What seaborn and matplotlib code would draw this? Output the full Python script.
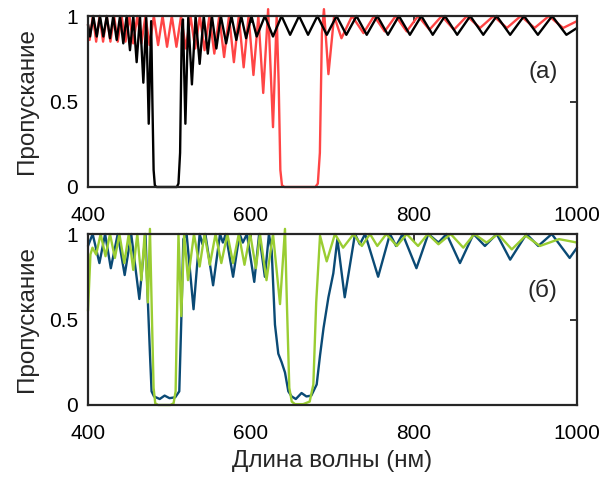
import matplotlib
matplotlib.use("Agg")
import matplotlib.pyplot as plt
import seaborn as sns

# ---------------- data ----------------
# panel (a): black curve
black_wl = [400, 402.5, 406.5, 410.7, 414.7, 418.8, 423, 427, 431, 435.2,
            439.3, 443.3, 447.4, 451.5, 455.6, 459.7, 463.8, 467.9, 471.5, 474.5,
            477.5, 479, 480.5, 482, 484, 509, 511, 513, 515, 516.5,
            519.5, 523, 527.5, 532, 537, 542, 547, 552, 557.5, 563,
            569.5, 576, 582, 588, 594, 600.5, 607, 617, 627, 637.5,
            648, 659, 670, 681.5, 693, 705, 717, 729.5, 742, 755,
            768, 781.5, 795, 809, 823, 838, 853, 869, 885, 901.5,
            918, 935, 952, 969.5, 987, 1000]
black_T = [0.95, 0.88, 1.0, 0.88, 1.0, 0.88, 1.0, 0.87, 1.0, 0.86,
           1.0, 0.84, 1.0, 0.80, 1.0, 0.73, 1.0, 0.61, 0.99, 0.37,
           0.97, 0.5, 0.1, 0.01, 0.0, 0.0, 0.02, 0.2, 0.9, 0.98,
           0.37, 0.99, 0.60, 1.0, 0.72, 1.0, 0.78, 1.0, 0.81, 1.0,
           0.84, 1.0, 0.86, 1.0, 0.87, 1.0, 0.88, 1.0, 0.88, 1.0,
           0.89, 1.0, 0.89, 1.0, 0.89, 1.0, 0.89, 1.0, 0.89, 1.0,
           0.89, 1.0, 0.89, 1.0, 0.89, 1.0, 0.89, 1.0, 0.89, 1.0,
           0.89, 1.0, 0.89, 1.0, 0.89, 0.93]

# panel (a): red curve
red_wl = [400, 402, 406, 410, 414.2, 418.5, 423, 427.5, 432, 436.5,
          441.2, 446, 450.8, 455.5, 460.5, 465.5, 470.5, 475.5, 480.8, 486,
          491.5, 497, 502.8, 508.5, 514.2, 520, 525.8, 531.5, 537.2, 543,
          549, 555, 561, 567, 573, 579, 585, 591, 597, 603,
          609, 615, 621, 627, 631.5, 634, 636, 638, 641, 679,
          682, 684.5, 687, 689.5, 695, 702, 711, 724, 738, 751,
          764, 777.5, 791, 805, 819, 834, 849, 865, 881, 897.5,
          914, 931, 948, 965.5, 983, 1000]
red_T = [0.95, 0.86, 1.0, 0.85, 1.0, 0.85, 1.0, 0.85, 1.0, 0.85,
         1.0, 0.85, 1.0, 0.84, 1.0, 0.84, 1.0, 0.83, 1.0, 0.83,
         1.0, 0.82, 1.0, 0.82, 1.0, 0.81, 1.0, 0.81, 1.0, 0.80,
         1.0, 0.78, 1.0, 0.76, 1.0, 0.73, 1.0, 0.70, 1.0, 0.655,
         1.0, 0.55, 1.04, 0.35, 1.0, 0.6, 0.1, 0.01, 0.0, 0.0,
         0.02, 0.2, 0.9, 1.04, 0.66, 1.0, 0.87, 1.0, 0.90, 1.0,
         0.91, 1.0, 0.91, 1.0, 0.92, 1.0, 0.92, 1.0, 0.93, 1.0,
         0.93, 1.0, 0.93, 1.0, 0.93, 0.97]

# panel (б): dark blue curve
blue_wl = [400, 405.7, 414, 421, 428, 436.5, 445, 453, 463, 470.5,
           473.5, 476, 478, 481, 488, 494, 500, 507, 512, 514.5,
           517, 521, 529.5, 537, 540.5, 544, 553.5, 562, 565.5, 569,
           578, 586, 590, 595, 604, 610, 617, 622, 625.4, 629.4,
           633.5, 637.6, 641.7, 645.8, 649.9, 655, 662, 668, 674, 680.6,
           684.7, 689, 695, 701, 706, 715, 727.6, 733.5, 740, 756,
           770.5, 778, 786, 803, 817.5, 830, 840, 856.4, 873, 887,
           901.5, 918, 938, 952.5, 969, 991, 1000]
blue_T = [0.93, 1.0, 0.83, 1.0, 0.80, 1.0, 0.76, 1.0, 0.62, 1.0,
          0.6, 0.3, 0.08, 0.05, 0.035, 0.055, 0.04, 0.045, 0.08, 0.5,
          0.97, 1.0, 0.56, 1.0, 0.94, 1.0, 0.70, 1.0, 0.95, 1.0,
          0.75, 1.0, 0.95, 1.0, 0.72, 1.0, 0.75, 1.0, 0.9, 0.47,
          0.3, 0.25, 0.19, 0.08, 0.05, 0.035, 0.07, 0.05, 0.055, 0.12,
          0.29, 0.45, 0.63, 0.77, 0.97, 0.63, 1.0, 0.94, 1.0, 0.75,
          1.0, 0.93, 1.0, 0.80, 1.0, 0.95, 1.0, 0.83, 1.0, 0.93,
          1.0, 0.85, 1.0, 0.93, 1.0, 0.86, 0.92]

# panel (б): green curve
green_wl = [400, 403, 405.5, 410, 415.5, 421.5, 427, 433, 438.5, 444.5,
            450, 455.5, 460.5, 465.5, 469.5, 473.5, 476, 478.5, 480.5, 482.5,
            486, 501, 505, 507.5, 509.5, 511, 514.5, 518, 522.7, 530,
            537, 543, 549.5, 556.5, 563.6, 571, 578, 585, 592, 599,
            606, 611, 619, 627, 635.6, 641.7, 644, 647, 650, 654,
            664, 672, 676.5, 680, 684.7, 692.9, 703, 713, 726, 736,
            746, 755, 766, 779, 791, 805, 817, 830, 845, 860.5,
            874, 889, 903, 920, 937, 954.5, 978, 1000]
green_T = [0.55, 0.88, 0.92, 0.88, 1.0, 0.87, 1.0, 0.86, 1.0, 0.83,
           1.0, 0.79, 1.0, 0.73, 1.0, 0.60, 1.03, 0.5, 0.1, 0.01,
           0.0, 0.0, 0.01, 0.08, 0.6, 1.0, 0.52, 1.0, 0.73, 1.0,
           0.81, 1.0, 0.82, 1.0, 0.83, 1.0, 0.83, 1.0, 0.82, 1.0,
           0.80, 1.0, 0.73, 1.0, 0.59, 1.03, 0.6, 0.1, 0.02, 0.005,
           0.005, 0.02, 0.12, 0.6, 0.99, 0.84, 1.0, 0.92, 1.0, 0.93,
           1.0, 0.93, 1.0, 0.93, 1.0, 0.93, 1.0, 0.94, 1.0, 0.92,
           1.0, 0.95, 1.0, 0.91, 0.99, 0.93, 0.97, 0.95]

x_ticks = [400, 600, 800, 1000]
y_ticks = [0, 0.5, 1]
y_tick_labels = ["0", "0.5", "1"]
panel_labels = ["(а)", "(б)"]
ylabel = "Пропускание"
xlabel = "Длина волны (нм)"

# ---------------- style ----------------
sns.set_theme(style="white")
plt.rcParams['font.family'] = ['Liberation Sans', 'DejaVu Sans']
FS = 15
FL = 17.5
SPINE = "#262626"

fig = plt.figure(figsize=(6.06, 4.79), dpi=100)
ax1 = fig.add_axes([88 / 606, 1 - 187 / 479, 489 / 606, 171 / 479])
ax2 = fig.add_axes([88 / 606, 1 - 405 / 479, 489 / 606, 171 / 479])

LW = 1.7
sns.lineplot(x=red_wl, y=red_T, ax=ax1, color="#FF4545", lw=LW,
             estimator=None, sort=False)
sns.lineplot(x=black_wl, y=black_T, ax=ax1, color="black", lw=LW,
             estimator=None, sort=False)
sns.lineplot(x=blue_wl, y=blue_T, ax=ax2, color="#0A4A75", lw=LW,
             estimator=None, sort=False)
sns.lineplot(x=green_wl, y=green_T, ax=ax2, color="#9ACD32", lw=LW,
             estimator=None, sort=False)

for ax, lab in zip((ax1, ax2), panel_labels):
    for ln in ax.lines:
        ln.set_clip_on(False)
    ax.set_xlim(400, 1000)
    ax.set_ylim(0, 1)
    ax.set_xticks(x_ticks)
    ax.set_xticklabels([str(t) for t in x_ticks])
    ax.set_yticks(y_ticks)
    ax.set_yticklabels(y_tick_labels)
    ax.tick_params(direction="in", length=5, width=1.3, top=True, right=True,
                   labelsize=FS, colors=SPINE, labelcolor="black")
    ax.tick_params(axis="x", pad=14)
    ax.tick_params(axis="y", pad=7)
    for s in ax.spines.values():
        s.set_color(SPINE)
        s.set_linewidth(1.6)
        s.set_visible(True)
    ax.set_ylabel(ylabel, fontsize=FL, labelpad=8)
    ax.set_xlabel("")
    ax.text(958, 0.67, lab, fontsize=FL, ha="center", va="center")

ax2.set_xlabel(xlabel, fontsize=FL, labelpad=5)

fig.savefig("out.png", dpi=100)
